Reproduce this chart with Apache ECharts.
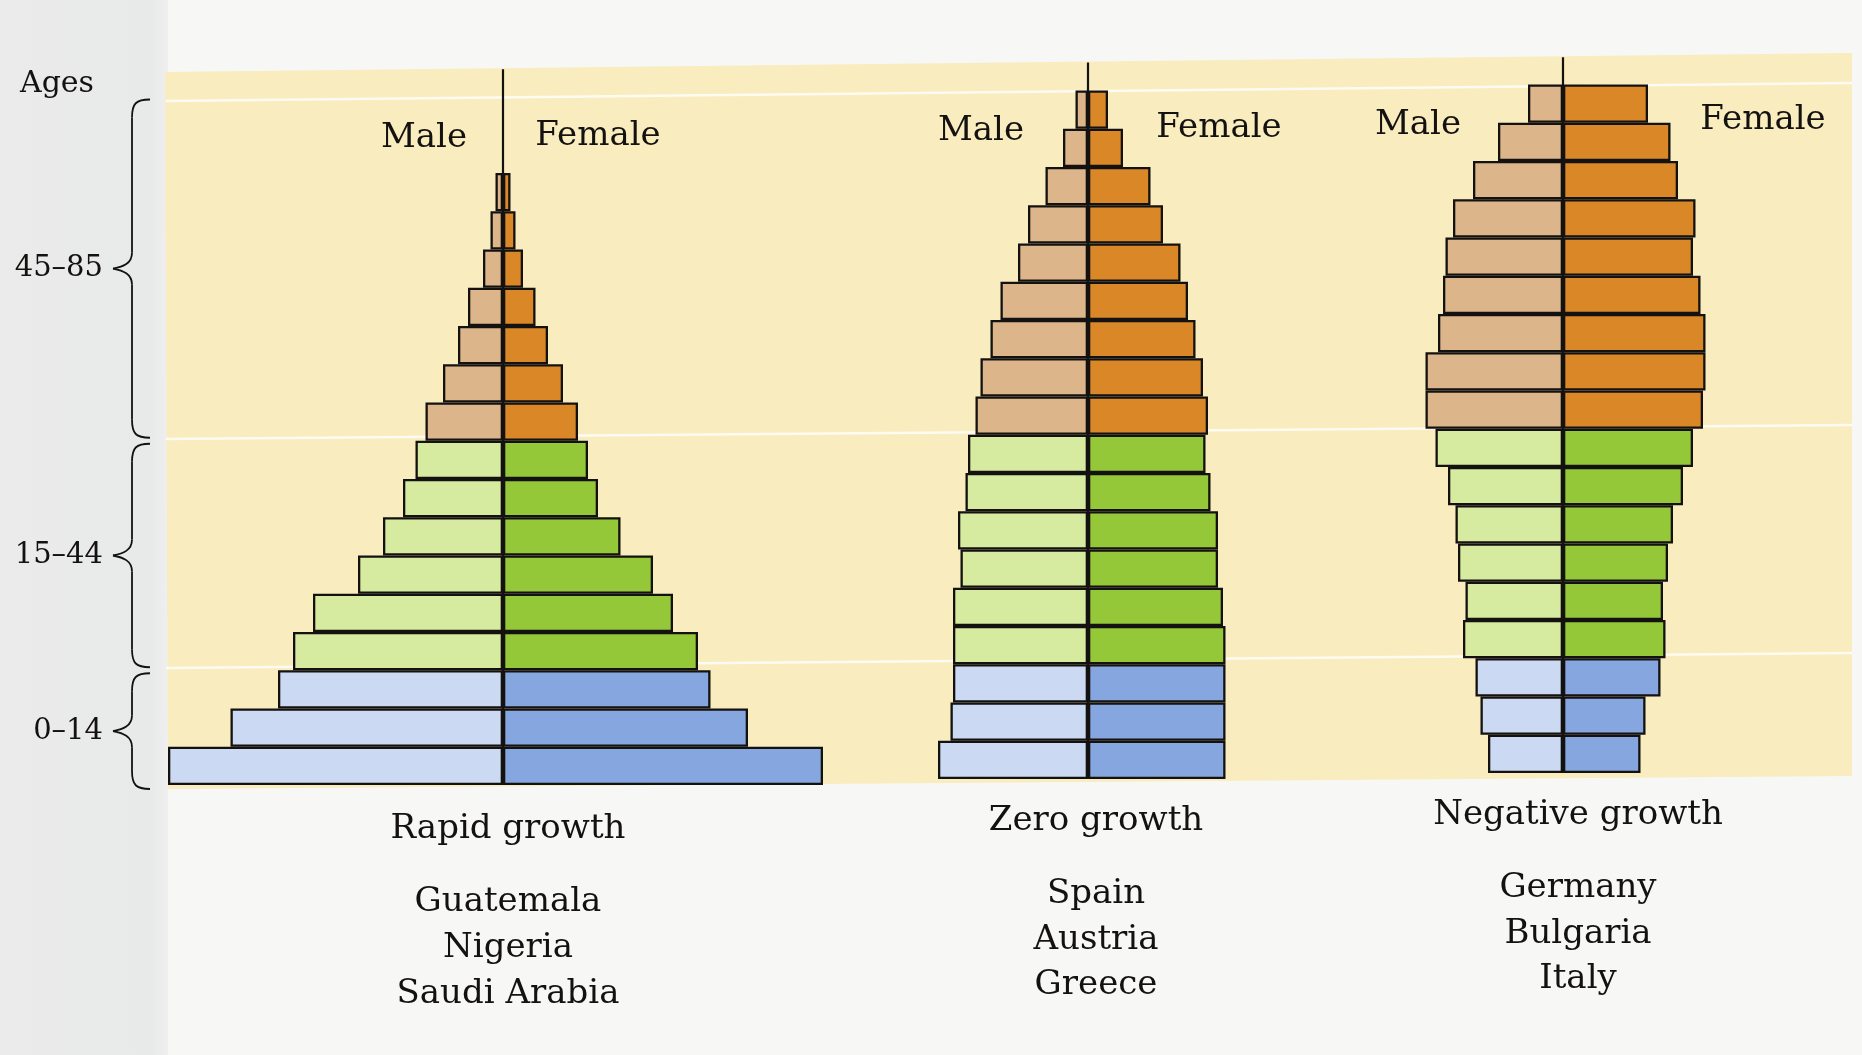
<!DOCTYPE html>
<html>
<head>
<meta charset="utf-8">
<title>Population age structure: rapid, zero and negative growth</title>
<script src="https://cdn.jsdelivr.net/npm/echarts@6/dist/echarts.min.js"></script>
<style>
  html, body { margin: 0; padding: 0; background: #f7f7f5; }
  #chart { width: 1862px; height: 1055px; }
</style>
</head>
<body>
<div id="chart"></div>
<script>
// Five-year age classes, youngest first (bottom of each pyramid)
const ages = ['0–4', '5–9', '10–14', '15–19', '20–24', '25–29', '30–34', '35–39', '40–44',
              '45–49', '50–54', '55–59', '60–64', '65–69', '70–74', '75–79', '80–84', '85+'];

// Relative share of population in each age class (males left, females right)
const rapidMale   = [13.4, 10.9, 9.0, 8.4, 7.6, 5.8, 4.8, 4.0, 3.5, 3.1, 2.4, 1.8, 1.4, 0.8, 0.5, 0.3, null, null];
const rapidFemale = [12.8, 9.8, 8.3, 7.8, 6.8, 6.0, 4.7, 3.8, 3.4, 3.0, 2.4, 1.8, 1.3, 0.8, 0.5, 0.3, null, null];
const zeroMale    = [6.0, 5.5, 5.4, 5.4, 5.4, 5.1, 5.2, 4.9, 4.8, 4.5, 4.3, 3.9, 3.5, 2.8, 2.4, 1.7, 1.0, 0.5];
const zeroFemale  = [5.5, 5.5, 5.5, 5.5, 5.4, 5.2, 5.2, 4.9, 4.7, 4.8, 4.6, 4.3, 4.0, 3.7, 3.0, 2.5, 1.4, 0.8];
const negMale     = [3.0, 3.3, 3.5, 4.0, 3.9, 4.2, 4.3, 4.6, 5.1, 5.5, 5.5, 5.0, 4.8, 4.7, 4.4, 3.6, 2.6, 1.4];
const negFemale   = [3.1, 3.3, 3.9, 4.1, 4.0, 4.2, 4.4, 4.8, 5.2, 5.6, 5.7, 5.7, 5.5, 5.2, 5.3, 4.6, 4.3, 3.4];

// Broad age bands shown with braces on the left (index ranges into ages)
const bandLabels = ['0–14', '15–44', '45–85'];
const bandStart  = [0, 3, 9];
const bandEnd    = [2, 8, 17];

const pyramidTitles = ['Rapid growth', 'Zero growth', 'Negative growth'];
const countries = [
  ['Guatemala', 'Nigeria', 'Saudi Arabia'],
  ['Spain', 'Austria', 'Greece'],
  ['Germany', 'Bulgaria', 'Italy']
];
const sexLabels = ['Male', 'Female'];

const FONT = '"DejaVu Serif", "Liberation Serif", serif';
const INK = '#141210';

// Fill colours per band: [male, female]
const bandColors = [
  ['#cbd9f2', '#86a6df'],   // 0–14
  ['#d6eaa0', '#95c838'],   // 15–44
  ['#dcb58a', '#da8727']    // 45+
];
function bandOf(i) { return i <= bandEnd[0] ? 0 : (i <= bandEnd[1] ? 1 : 2); }

// Layout: one grid per pyramid, identical scale (25 px per unit)
const ROW = 38.25;
const layouts = [
  { center: 503,  half: 14, bottom: 785 },
  { center: 1088, half: 7,  bottom: 779 },
  { center: 1563, half: 7,  bottom: 773 }
];
const UNIT = 25;
const pyramids = [
  { male: rapidMale, female: rapidFemale },
  { male: zeroMale,  female: zeroFemale },
  { male: negMale,   female: negFemale }
];

const grids = [], xAxes = [], yAxes = [], series = [];
layouts.forEach(function (L, g) {
  const w = L.half * 2 * UNIT;
  const h = ROW * ages.length;
  grids.push({ left: L.center - w / 2, width: w, top: L.bottom - h, height: h });
  xAxes.push({ type: 'value', gridIndex: g, min: -L.half, max: L.half, show: false });
  yAxes.push({ type: 'category', gridIndex: g, data: ages, show: false });
  const p = pyramids[g];
  ['male', 'female'].forEach(function (sex, s) {
    series.push({
      type: 'bar',
      name: sexLabels[s],
      xAxisIndex: g,
      yAxisIndex: g,
      barCategoryGap: 0,
      barGap: '-100%',
      silent: true,
      data: p[sex].map(function (v, i) {
        if (v == null) return null;
        return {
          value: s === 0 ? -v : v,
          itemStyle: { color: bandColors[bandOf(i)][s] }
        };
      }),
      itemStyle: { borderColor: INK, borderWidth: 2.3 }
    });
  });
});

const chart = echarts.init(document.getElementById('chart'), null, { renderer: 'canvas' });
chart.setOption({
  animation: false,
  backgroundColor: '#f7f7f5',
  grid: grids,
  xAxis: xAxes,
  yAxis: yAxes,
  series: series
});

// Decorations derived from the axes once they are laid out
const PANEL = [[165, 72], [1852, 53], [1852, 776], [168, 789]];
function panelTop(x) {
  return PANEL[0][1] + (x - PANEL[0][0]) * (PANEL[1][1] - PANEL[0][1]) / (PANEL[1][0] - PANEL[0][0]);
}
function bandEdges(gridIndex, lo, hi) {
  const a = chart.convertToPixel({ gridIndex: gridIndex }, [0, lo])[1];
  const b = chart.convertToPixel({ gridIndex: gridIndex }, [0, hi])[1];
  return { top: b - ROW / 2, bottom: a + ROW / 2 };
}

const elements = [];
// page margin tone
elements.push({
  type: 'rect', z: -20, silent: true,
  shape: { x: 0, y: 0, width: 168, height: 1055 },
  style: { fill: new echarts.graphic.LinearGradient(0, 0, 1, 0, [
    { offset: 0, color: '#ebebeb' }, { offset: 0.9, color: '#e8e9e9' }, { offset: 1, color: '#efefef' }]) }
});
// cream panel behind the pyramids
elements.push({
  type: 'polygon', z: -10, silent: true,
  shape: { points: PANEL },
  style: { fill: '#f9ecbe' }
});
// faint white rules at the band boundaries
const ruleYs = [[101, 83], [439, 425], [668, 653]];
ruleYs.forEach(function (r) {
  elements.push({
    type: 'line', z: -5, silent: true,
    shape: { x1: 166, y1: r[0], x2: 1852, y2: r[1] },
    style: { stroke: 'rgba(255,255,255,0.8)', lineWidth: 2.5 }
  });
});

// centre axis of each pyramid, running up to the top of the panel
layouts.forEach(function (L, g) {
  const x = chart.convertToPixel({ gridIndex: g }, [0, 0])[0];
  const e = bandEdges(g, 0, ages.length - 1);
  elements.push({
    type: 'line', z: 50, silent: true,
    shape: { x1: x, y1: panelTop(x) + 1, x2: x, y2: e.bottom },
    style: { stroke: INK, lineWidth: 2.2 }
  });
});

// braces and band labels on the left
function curve(x1, y1, c1x, c1y, c2x, c2y, x2, y2) {
  return {
    type: 'bezierCurve', z: 10, silent: true,
    shape: { x1: x1, y1: y1, cpx1: c1x, cpy1: c1y, cpx2: c2x, cpy2: c2y, x2: x2, y2: y2 },
    style: { fill: null, stroke: INK, lineWidth: 1.8 }
  };
}
function segment(x1, y1, x2, y2) {
  return {
    type: 'line', z: 10, silent: true,
    shape: { x1: x1, y1: y1, x2: x2, y2: y2 },
    style: { stroke: INK, lineWidth: 1.8 }
  };
}
bandLabels.forEach(function (lab, b) {
  const e = bandEdges(0, bandStart[b], bandEnd[b]);
  const y1 = e.top + 3, y2 = e.bottom + (b === 0 ? 4 : -3);
  const ym = (y1 + y2) / 2;
  const xr = 150, xv = 132, xt = 113;
  elements.push(curve(xr, y1, xv + 4, y1, xv, y1 + 4, xv, y1 + 18));
  elements.push(segment(xv, y1 + 18, xv, ym - 16));
  elements.push(curve(xv, ym - 16, xv, ym - 5, xt + 10, ym - 2, xt, ym));
  elements.push(curve(xt, ym, xt + 10, ym + 2, xv, ym + 5, xv, ym + 16));
  elements.push(segment(xv, ym + 16, xv, y2 - 18));
  elements.push(curve(xv, y2 - 18, xv, y2 - 4, xv + 4, y2, xr, y2));
  elements.push({
    type: 'text', z: 10, silent: true,
    style: { text: lab, x: 103, y: ym, font: '29px ' + FONT, fill: INK,
             textAlign: 'right', textVerticalAlign: 'middle' }
  });
});
elements.push({
  type: 'text', z: 10, silent: true,
  style: { text: 'Ages', x: 20, y: 84, font: '30px ' + FONT, fill: INK,
           textAlign: 'left', textVerticalAlign: 'middle' }
});

// Male / Female headers above each pyramid
const sexPos = [
  [[424, 138], [598, 136]],
  [[981, 131], [1219, 128]],
  [[1418, 125], [1763, 120]]
];
sexPos.forEach(function (pair) {
  pair.forEach(function (p, s) {
    elements.push({
      type: 'text', z: 10, silent: true,
      style: { text: sexLabels[s], x: p[0], y: p[1], font: '34px ' + FONT, fill: INK,
               textAlign: 'center', textVerticalAlign: 'middle' }
    });
  });
});

// Titles and example countries under each pyramid
const captionPos = [
  { x: 508,  title: 829, lines: [902, 948, 994] },
  { x: 1096, title: 821, lines: [894, 940, 985] },
  { x: 1578, title: 815, lines: [888, 934, 979] }
];
captionPos.forEach(function (c, g) {
  elements.push({
    type: 'text', z: 10, silent: true,
    style: { text: pyramidTitles[g], x: c.x, y: c.title, font: '34px ' + FONT, fill: INK,
             textAlign: 'center', textVerticalAlign: 'middle' }
  });
  countries[g].forEach(function (name, k) {
    elements.push({
      type: 'text', z: 10, silent: true,
      style: { text: name, x: c.x, y: c.lines[k], font: '34px ' + FONT, fill: INK,
               textAlign: 'center', textVerticalAlign: 'middle' }
    });
  });
});

chart.setOption({ graphic: { elements: elements } });
</script>
</body>
</html>
